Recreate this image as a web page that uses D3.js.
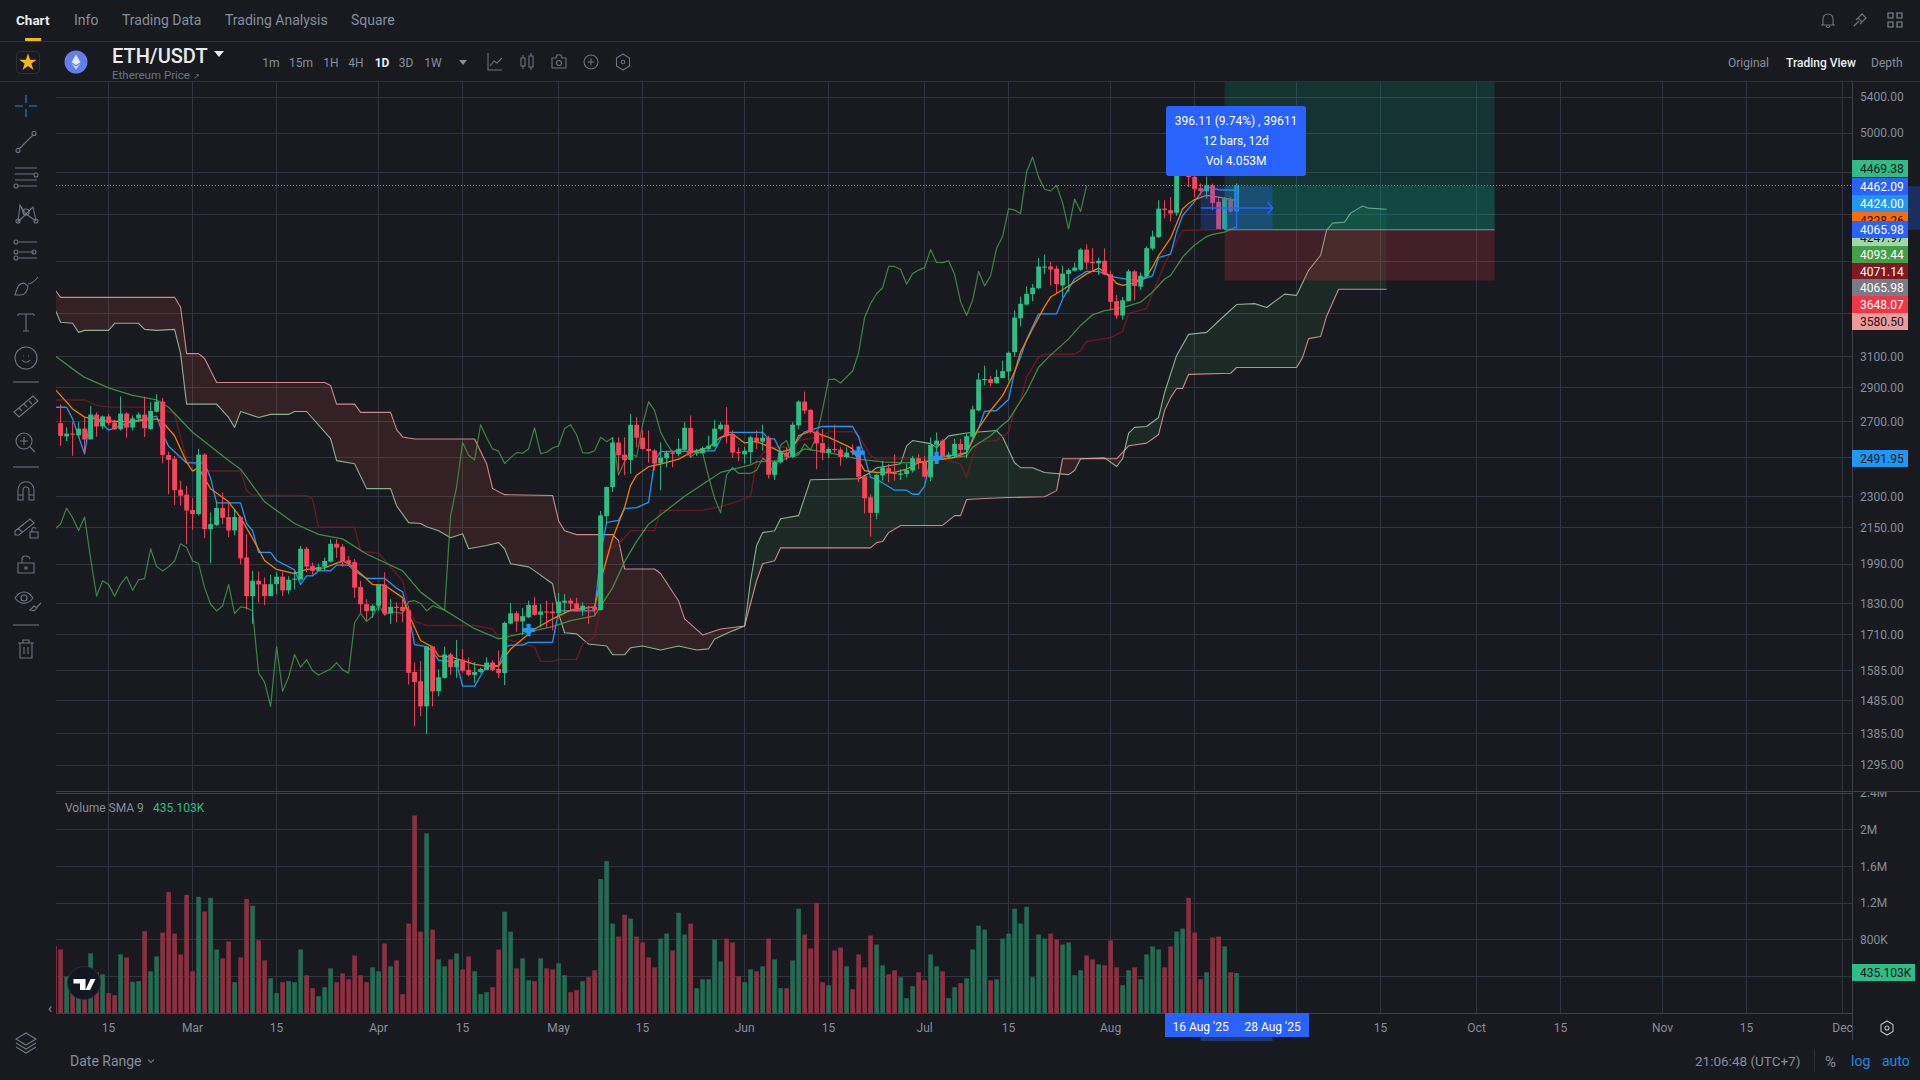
<!DOCTYPE html>
<html lang="en">
<head>
<meta charset="UTF-8">
<script src="https://d3js.org/d3.v7.min.js"></script>
<style>
  html, body { margin: 0; background: #181A20; }
  svg { display: block; }
  text { font-family: Roboto, sans-serif; }
</style>
<title>ETH/USDT</title>
</head>
<body>
<script>
// daily bars, first bar is 7 Feb 2025
const opens = [
  2689,2614,2630,2620,2658,2597,2739,2670,2728,2693, 2654,2745,2664,2716,2739,2656,2756,2816,2512,2492,
  2333,2308,2234,2214,2514,2144,2163,2243,2200,2138, 2200,2018,1858,1920,1906,1858,1906,1937,1881,1925,
  1925,2056,1982,1961,1978,2000,2078,2065,2006,1998, 1895,1826,1800,1820,1904,1790,1816,1816,1803,1580,
  1549,1468,1668,1516,1560,1640,1596,1622,1587,1570, 1580,1587,1612,1590,1576,1752,1791,1760,1776,1823,
  1785,1798,1798,1791,1832,1840,1829,1803,1816,1816, 1803,2204,2345,2580,2514,2486,2680,2607,2545,2536,
  2467,2495,2525,2518,2541,2662,2525,2522,2545,2558, 2655,2680,2626,2528,2516,2528,2607,2585,2607,2408,
  2473,2525,2502,2676,2816,2767,2641,2577,2525,2545, 2541,2502,2535,2532,2400,2295,2220,2405,2442,2418,
  2408,2412,2430,2495,2480,2395,2567,2591,2500,2507, 2572,2540,2611,2763,2948,2955,2930,2962,3003,3130,
  3365,3465,3543,3588,3753,3759,3742,3610,3700,3725, 3733,3897,3795,3785,3805,3696,3490,3385,3490,3720,
  3600,3680,3905,4003,4254,4240,4215,4600,4750,4553, 4443,4415,4471,4316,4073,4341,4228
];
const highs = [
  2798,2666,2695,2695,2724,2790,2752,2734,2743,2708, 2847,2752,2734,2752,2847,2813,2860,2838,2530,2507,
  2378,2352,2292,2545,2522,2222,2278,2318,2273,2238, 2206,2122,1961,1958,1934,1945,1955,1955,1939,1961,
  2069,2065,1996,1992,2017,2098,2098,2076,2024,2011, 1920,1846,1826,1906,1955,1846,1833,1852,1820,1612,
  1617,1670,1670,1589,1668,1646,1692,1659,1630,1614, 1595,1630,1620,1654,1760,1831,1800,1812,1840,1855,
  1826,1840,1833,1870,1866,1850,1852,1833,1820,1825, 2229,2349,2609,2609,2609,2743,2724,2647,2647,2545,
  2581,2536,2536,2601,2695,2734,2545,2558,2618,2708, 2695,2783,2647,2554,2556,2618,2647,2680,2618,2482,
  2536,2554,2695,2823,2877,2770,2647,2656,2554,2680, 2554,2554,2570,2562,2402,2310,2411,2482,2464,2515,
  2437,2464,2507,2516,2507,2609,2636,2600,2527,2600, 2600,2628,2792,2994,3041,2975,3015,3074,3134,3423,
  3525,3602,3620,3827,3855,3795,3765,3765,3745,3790, 3909,3941,3909,3830,3907,3725,3535,3521,3736,3730,
  3712,3925,4060,4331,4331,4360,4630,4780,4785,4650, 4488,4556,4488,4361,4361,4361,4490
];
const lows = [
  2563,2588,2508,2610,2524,2597,2613,2656,2676,2651, 2647,2606,2647,2695,2610,2651,2752,2468,2310,2258,
  2255,2076,2141,2208,2103,1993,2158,2167,2108,2116, 1989,1806,1751,1833,1823,1858,1866,1858,1866,1884,
  1920,1955,1945,1958,1961,1996,2017,1979,1985,1852, 1793,1766,1774,1800,1782,1751,1757,1757,1538,1407,
  1437,1384,1468,1500,1558,1570,1560,1577,1565,1543, 1575,1587,1582,1560,1536,1749,1722,1710,1773,1782,
  1738,1738,1727,1787,1787,1800,1798,1782,1751,1782, 1803,2167,2321,2430,2406,2413,2554,2540,2472,2430,
  2329,2447,2447,2505,2536,2497,2507,2516,2536,2554, 2647,2575,2497,2480,2467,2467,2545,2536,2389,2381,
  2467,2484,2495,2654,2743,2630,2437,2484,2495,2525, 2455,2495,2510,2370,2217,2110,2190,2378,2370,2378,
  2381,2395,2420,2437,2395,2375,2507,2490,2495,2500, 2500,2495,2607,2759,2916,2910,2925,2960,2946,3100,
  3308,3460,3490,3578,3700,3610,3550,3520,3560,3720, 3725,3733,3720,3690,3690,3425,3360,3355,3490,3496,
  3574,3675,3890,3995,4165,4140,4190,4560,4455,4361, 4376,4346,4242,4073,4067,4215,4210
];
const closes = [
  2617,2630,2626,2658,2597,2739,2670,2728,2689,2654, 2745,2664,2716,2739,2660,2760,2816,2512,2486,2330,
  2303,2231,2214,2514,2144,2167,2243,2197,2138,2200, 2014,1858,1920,1905,1858,1906,1937,1881,1924,1929,
  2056,1979,1961,1978,2003,2078,2061,2003,1992,1892, 1826,1800,1820,1904,1790,1816,1812,1800,1577,1546,
  1468,1668,1516,1562,1640,1596,1622,1584,1570,1580, 1590,1612,1587,1576,1755,1791,1760,1780,1823,1785,
  1798,1794,1791,1836,1840,1829,1800,1820,1812,1803, 2208,2346,2580,2511,2486,2680,2607,2545,2533,2467,
  2498,2525,2522,2545,2662,2520,2527,2550,2562,2658, 2680,2622,2525,2522,2535,2609,2585,2607,2408,2476,
  2525,2502,2680,2816,2762,2638,2575,2525,2545,2541, 2502,2525,2525,2398,2290,2220,2408,2446,2415,2415,
  2415,2432,2495,2475,2398,2567,2591,2502,2514,2572, 2540,2615,2770,2952,2955,2930,2968,3006,3126,3370,
  3471,3546,3592,3759,3759,3735,3620,3702,3730,3750, 3897,3791,3790,3805,3695,3485,3385,3497,3720,3605,
  3685,3909,4007,4254,4240,4210,4600,4750,4550,4434, 4418,4471,4306,4073,4341,4228,4469.38
];
// in thousands, starts one day earlier (6 Feb) because that bar peeks in at the left edge
const volumes = [
  730,693,397,250,200,150,650,444,422,217,195,639,606,339,347,892,455,617,877,1321,866,639,1289,
  455,1267,1108,1256,693,596,780,336,606,1245,1170,794,574,379,217,336,347,336,693,412,271,184,282,487,336,433,368,628,412,336,498,
  455,758,509,574,206,975,2155,888,1960,910,585,509,585,650,476,617,455,206,227,282,693,1105,888,487,596,357,347,596,487,476,
  542,412,227,249,347,390,466,1462,1657,975,834,1072,1029,834,769,606,498,812,866,682,1094,856,975,271,368,368,801,563,812,769,401,
  336,476,455,509,812,585,271,271,574,1137,856,704,1202,336,303,682,715,509,260,639,498,845,747,520,422,466,390,162,292,444,
  357,639,509,455,162,282,325,379,693,953,910,357,368,812,866,1137,975,1159,390,856,812,866,801,747,769,412,466,628,585,531,520,
  791,498,303,466,498,368,639,726,693,498,726,888,921,1256,877,368,444,823,834,726,444,435
];

// indicator lines, read at their corners: bar number from 7 Feb and price
const tenkanDays = [-1,1,2,4,5,6,8,12,16,17,18,19,21,24,25,26,30,31,32,33,35,36,39,40,41,42,43,45,46,48,49,51,54,56,57,58,59,61,62,63,66,67,69,71,73,74,75,77,78,82,83,89,90,91,93,94,96,98,99,100,109,110,111,117,118,119,120,121,123,124,127,132,133,135,136,139,141,142,143,144,145,151,152,153,154,156,158,159,160,161,163,166,167,169,171,173,175,178,180,182,183,185,186,187,189,190,191,193,196];
const tenkanVals = [2782,2782,2714,2518,2733,2716,2650,2700,2730,2630,2560,2530,2470,2470,2390,2268,2268,2170,2137,2040,2040,2005,1965,1905,1940,1940,1962,1962,1985,1985,1960,1930,1930,1890,1875,1790,1675,1668,1650,1620,1613,1533,1533,1601,1601,1665,1673,1673,1683,1683,1800,1800,2032,2175,2185,2240,2245,2270,2480,2530,2535,2600,2637,2637,2600,2600,2530,2510,2600,2640,2670,2670,2610,2395,2385,2330,2330,2310,2310,2350,2490,2525,2600,2660,2758,2763,2829,3000,3097,3215,3397,3397,3507,3660,3720,3720,3680,3655,3650,3685,3830,3859,4050,4190,4320,4398,4455,4429,4424];
const smaFastDays = [-1,1,2,4,8,12,16,17,19,21,22,23,25,28,30,32,34,36,39,41,44,47,48,50,52,54,57,58,60,62,63,65,69,71,73,75,79,82,85,89,90,92,94,95,96,98,100,103,105,108,110,112,114,116,119,120,122,123,125,126,128,131,132,133,134,136,139,141,143,145,149,151,153,155,157,159,160,162,164,165,167,169,171,173,175,176,177,179,181,182,183,185,187,188,189,191,193,196];
const smaFastVals = [2894,2813,2772,2724,2700,2698,2714,2695,2618,2474,2427,2445,2337,2273,2197,2102,2005,1967,1950,1967,1974,2003,1992,1950,1905,1902,1852,1787,1690,1666,1634,1632,1606,1600,1600,1659,1732,1770,1803,1816,1920,2102,2246,2354,2406,2450,2464,2490,2525,2554,2609,2628,2578,2585,2545,2528,2545,2618,2643,2632,2609,2563,2545,2482,2430,2420,2420,2437,2472,2482,2500,2525,2660,2763,2852,3000,3130,3290,3450,3521,3577,3636,3700,3746,3680,3625,3610,3630,3680,3755,3848,3993,4250,4300,4337,4376,4360,4328.26];
const smaSlowDays = [-1,2,4,8,12,16,18,22,28,30,34,39,43,47,51,57,60,64,69,73,82,85,89,92,94,96,98,104,110,115,116,120,122,124,128,133,137,141,144,147,151,152,155,157,158,161,163,165,168,170,172,174,177,180,182,184,185,187,189,191,192,194,196];
const smaSlowVals = [3108,3020,2965,2900,2853,2826,2782,2637,2483,2437,2273,2170,2120,2100,2033,1961,1874,1803,1733,1696,1741,1763,1781,1892,2000,2089,2167,2300,2420,2460,2476,2482,2507,2545,2525,2490,2476,2470,2476,2490,2507,2554,2618,2680,2707,2876,3030,3110,3220,3314,3390,3420,3442,3483,3560,3660,3687,3835,3935,4007,4025,4045,4093.44];
const kijunDays = [-1,4,6,8,16,19,20,21,24,25,30,31,32,41,42,43,49,50,53,57,58,59,61,69,72,73,79,80,82,83,86,87,89,90,91,93,95,99,100,107,110,112,115,116,118,121,122,123,127,128,132,133,135,136,147,150,151,152,153,156,158,159,160,161,163,164,169,170,171,175,177,178,181,182,184,187,196];
const kijunVals = [2826,2826,2793,2783,2783,2743,2609,2486,2435,2428,2428,2328,2306,2303,2287,2153,2153,2044,2036,1920,1816,1761,1745,1745,1732,1702,1666,1616,1616,1623,1623,1676,1702,1816,2046,2076,2137,2137,2231,2233,2250,2268,2298,2482,2554,2554,2507,2591,2615,2640,2640,2620,2507,2490,2490,2464,2395,2507,2583,2591,2640,2763,2823,2967,3097,3116,3116,3140,3202,3228,3271,3400,3435,3554,3780,4060,4071.14];
const spanADays = [-2,-1,0,2,3,4,8,9,13,14,16,19,20,21,26,28,29,30,33,35,38,39,41,45,46,49,51,55,56,58,60,61,63,65,67,68,71,73,74,75,78,79,82,83,84,86,87,88,91,92,94,95,97,100,103,106,108,109,112,114,115,116,117,119,120,123,125,133,135,136,140,141,142,145,146,148,151,156,157,159,160,162,164,168,169,170,174,176,177,178,179,181,183,184,186,188,191,194,196,199,201,204,206,208,210,211,212,214,215,217,218,221];
const spanAVals = [3500,3437,3336,3329,3265,3279,3279,3329,3329,3286,3279,3286,3120,2801,2801,2722,2665,2757,2722,2740,2740,2757,2757,2602,2482,2466,2338,2338,2254,2174,2170,2155,2137,2105,2123,2056,2070,2083,2056,1991,1978,1961,1908,1789,1718,1714,1695,1677,1670,1639,1639,1664,1670,1656,1670,1656,1660,1695,1725,1743,1920,2070,2128,2137,2192,2207,2383,2388,2420,2445,2466,2562,2591,2574,2552,2617,2633,2647,2611,2471,2445,2445,2420,2409,2430,2492,2497,2451,2492,2633,2665,2670,2722,2871,3108,3251,3265,3385,3465,3472,3443,3543,3534,3728,3850,4063,4124,4133,4213,4277,4258,4247.97];
const spanBDays = [-2,-1,0,19,20,21,23,24,26,44,45,46,49,50,55,56,57,59,69,71,72,74,82,83,84,86,92,93,94,99,100,103,104,107,110,114,116,117,119,120,135,136,137,138,140,147,149,150,151,154,158,164,166,167,176,178,181,183,184,185,186,187,188,195,196,206,207,208,210,211,213,221];
const spanBVals = [3622,3580,3519,3519,3445,3120,3120,3088,2933,2933,2914,2801,2801,2752,2752,2652,2611,2600,2600,2466,2338,2308,2304,2183,2137,2119,2119,2092,1969,1969,1950,1839,1770,1710,1732,1743,1920,1991,2004,2060,2060,2083,2088,2128,2161,2161,2207,2207,2284,2289,2294,2298,2328,2492,2492,2562,2577,2625,2763,2840,2896,2896,2985,2992,3029,3029,3095,3222,3236,3380,3580,3580.50];
// lagging span: the closes drawn this many bars back
const laggingShift = 25;

// small blue + marks on the chart
const markDays = [78, 133, 146];
const markVals = [1728, 2525, 2497];

const priceTicks = [5400,5000,4600,4200,3800,3400,3100,2900,2700,2500,2300,2150,1990,1830,1710,1585,1485,1385,1295];
// the labels that the value tags do not cover
const priceLabels = [5400,5000,3100,2900,2700,2300,2150,1990,1830,1710,1585,1485,1385,1295];
const volumeTicks = [400000,800000,1200000,1600000,2000000,2400000];
const volumeLabels = [800000,1200000,1600000,2000000,2400000];
const timeTickDates = ["2025-02-15","2025-03-01","2025-03-15","2025-04-01","2025-04-15","2025-05-01","2025-05-15","2025-06-01","2025-06-15","2025-07-01","2025-07-15","2025-08-01","2025-08-15","2025-09-01","2025-09-15","2025-10-01","2025-10-15","2025-11-01","2025-11-15","2025-12-01"];
const timeLabelDates = ["2025-02-15","2025-03-01","2025-03-15","2025-04-01","2025-04-15","2025-05-01","2025-05-15","2025-06-01","2025-06-15","2025-07-01","2025-07-15","2025-08-01","2025-09-15","2025-10-01","2025-10-15","2025-11-01","2025-11-15","2025-12-01"];
const timeLabels = ["15","Mar","15","Apr","15","May","15","Jun","15","Jul","15","Aug","15","Oct","15","Nov","15","Dec"];

// last value tags on the price axis, in drawing order
const tagLabels = ["4469.38","4462.09","4424.00","4328.26","4247.97","4065.98","4093.44","4071.14","4065.98","3648.07","3580.50","2491.95"];
const tagFills = ["#2ebd85","#2962ff","#2196f3","#ff6d00","#a5d6a7","#2962ff","#43a047","#801922","#787b86","#f23645","#ef9a9a","#2196f3"];
const tagInks = ["#10151a","#fff","#fff","#10151a","#10151a","#fff","#fff","#fff","#fff","#fff","#10151a","#10151a"];
const tagTops = [160,178,195,212,229,221,246,263,279,296,313,450];

const GREEN = "#2ebd85", RED = "#f6465d", GRID = "#2f3641", AXIS = "#848e9c", MUTED = "#6b7481";
const left = 56, right = 1852, headerY = 81, paneBottom = 791, volBottom = 1013;

const svg = d3.select("body").append("svg").attr("width", 1920).attr("height", 1080);
const defs = svg.append("defs");

const barDate = i => new Date(Date.UTC(2025, 1, 7 + i));
const x = d3.scaleUtc().domain([new Date("2025-02-15"), new Date("2025-12-01")]).range([108.6, 1842.6]);
const y = d3.scaleLog().domain([1295, 5400]).range([765, 97]);
const yVol = d3.scaleLinear().domain([0, 2400000]).range([volBottom, 793]);
const bx = i => x(barDate(i));

defs.append("clipPath").attr("id", "pricePane").append("rect")
  .attr("x", left).attr("y", headerY).attr("width", right - left).attr("height", paneBottom - headerY);
defs.append("clipPath").attr("id", "volPane").append("rect")
  .attr("x", left).attr("y", 793).attr("width", right - left).attr("height", volBottom - 793);
defs.append("clipPath").attr("id", "volAxisClip").append("rect")
  .attr("x", right).attr("y", 792).attr("width", 68).attr("height", volBottom - 792);
defs.append("clipPath").attr("id", "timeAxisClip").append("rect")
  .attr("x", left).attr("y", volBottom).attr("width", right - left).attr("height", 30);

// grid
const grid = svg.append("g").attr("stroke", GRID).attr("stroke-width", 1).attr("shape-rendering", "crispEdges");
grid.selectAll(".v").data(timeTickDates).enter().append("line")
  .attr("x1", d => x(new Date(d))).attr("x2", d => x(new Date(d))).attr("y1", headerY).attr("y2", volBottom);
grid.selectAll(".h").data(priceTicks).enter().append("line")
  .attr("x1", left).attr("x2", right).attr("y1", d => y(d)).attr("y2", d => y(d));
grid.selectAll(".hv").data(volumeTicks).enter().append("line")
  .attr("x1", left).attr("x2", right).attr("y1", d => yVol(d)).attr("y2", d => yVol(d));

// volume
svg.append("g").attr("clip-path", "url(#volPane)").selectAll("rect").data(volumes).enter().append("rect")
  .attr("x", (d, i) => bx(i - 1) - 2.3)
  .attr("width", 4.6)
  .attr("y", d => yVol(d * 1000))
  .attr("height", d => volBottom - yVol(d * 1000))
  .attr("fill", (d, i) => (i === 0 || closes[i - 1] < opens[i - 1]) ? "#8c2f40" : "#236b53");

const pane = svg.append("g").attr("clip-path", "url(#pricePane)");

// ichimoku cloud, filled between the two spans and split by colour with clip paths
const line = d3.line();
const ptsA = spanADays.map((d, i) => [bx(d), y(spanAVals[i])]);
const ptsB = spanBDays.map((d, i) => [bx(d), y(spanBVals[i])]);
const cloudPath = line(ptsA.concat(ptsB.slice().reverse())) + "Z";
const xa = ptsB[0][0], xb = ptsB[ptsB.length - 1][0];
defs.append("clipPath").attr("id", "aboveB").append("path")
  .attr("d", line([[xa, -50]].concat(ptsB, [[xb, -50]])) + "Z");
defs.append("clipPath").attr("id", "belowB").append("path")
  .attr("d", line([[xa, 1200]].concat(ptsB, [[xb, 1200]])) + "Z");
pane.append("g").attr("clip-path", "url(#aboveB)").append("path")
  .attr("d", cloudPath).attr("fill", "#43a047").attr("fill-opacity", 0.12);
pane.append("g").attr("clip-path", "url(#belowB)").append("path")
  .attr("d", cloudPath).attr("fill", "#ef5350").attr("fill-opacity", 0.13);

function drawLine(days, vals, color, width, opacity) {
  pane.append("path")
    .attr("d", line(days.map((d, i) => [bx(d), y(vals[i])])))
    .attr("fill", "none").attr("stroke", color).attr("stroke-width", width)
    .attr("stroke-opacity", opacity).attr("stroke-linejoin", "round");
}

drawLine(spanADays, spanAVals, "#a5d6a7", 1.1, 0.8);
drawLine(spanBDays, spanBVals, "#ef9a9a", 1.1, 0.85);
drawLine(kijunDays, kijunVals, "#801922", 1.4, 0.75);
drawLine(closes.map((c, i) => i - laggingShift), closes, "#43a047", 1.2, 0.8);
drawLine(smaSlowDays, smaSlowVals, "#43a047", 1.3, 0.85);
drawLine(tenkanDays, tenkanVals, "#2196f3", 1.3, 1);
drawLine(smaFastDays, smaFastVals, "#f57c00", 1.3, 1);

// candles
const candles = pane.append("g").selectAll("g").data(closes).enter().append("g")
  .attr("fill", (d, i) => d < opens[i] ? RED : GREEN);
candles.append("rect")
  .attr("x", (d, i) => bx(i) - 0.5).attr("width", 1)
  .attr("y", (d, i) => y(highs[i]))
  .attr("height", (d, i) => y(lows[i]) - y(highs[i]));
candles.append("rect")
  .attr("x", (d, i) => bx(i) - 2.4).attr("width", 4.8)
  .attr("y", (d, i) => y(Math.max(opens[i], d)))
  .attr("height", (d, i) => Math.max(1.2, Math.abs(y(opens[i]) - y(d))));

pane.selectAll(".mark").data(markDays).enter().append("path")
  .attr("transform", (d, i) => `translate(${bx(d)},${y(markVals[i])})`)
  .attr("d", d3.symbol().type(d3.symbolCross).size(85))
  .attr("fill", "#2196f3");

// last price
pane.append("line").attr("x1", left).attr("x2", right).attr("y1", y(4469.38)).attr("y2", y(4469.38))
  .attr("stroke", GREEN).attr("stroke-dasharray", "1 2").attr("shape-rendering", "crispEdges");

// long position tool
const posLeft = bx(194), posRight = bx(239);
pane.append("rect").attr("x", posLeft).attr("width", posRight - posLeft)
  .attr("y", headerY).attr("height", y(4065.98) - headerY)
  .attr("fill", "#089981").attr("fill-opacity", 0.2);
pane.append("rect").attr("x", posLeft).attr("width", posRight - posLeft)
  .attr("y", y(4469.38)).attr("height", y(4065.98) - y(4469.38))
  .attr("fill", "#089981").attr("fill-opacity", 0.2);
pane.append("rect").attr("x", posLeft).attr("width", posRight - posLeft)
  .attr("y", y(4065.98)).attr("height", y(3648.07) - y(4065.98))
  .attr("fill", "#f23645").attr("fill-opacity", 0.2);
pane.append("line").attr("x1", posLeft).attr("x2", posRight).attr("y1", y(4065.98)).attr("y2", y(4065.98))
  .attr("stroke", "#8a8f98").attr("stroke-width", 1);

// measure tool
const mLeft = bx(190), mRight = bx(202), mMid = bx(196), mTop = y(4462.09), mBot = y(4065.98);
const mRow = (mTop + mBot) / 2;
pane.append("rect").attr("x", mLeft).attr("width", mRight - mLeft).attr("y", mTop).attr("height", mBot - mTop)
  .attr("fill", "#2962ff").attr("fill-opacity", 0.25);
pane.append("line").attr("x1", mLeft).attr("x2", mRight).attr("y1", mRow).attr("y2", mRow)
  .attr("stroke", "#2962ff").attr("stroke-width", 1.4);
pane.append("line").attr("x1", mMid).attr("x2", mMid).attr("y1", mTop).attr("y2", mBot)
  .attr("stroke", "#2962ff").attr("stroke-width", 1.4);
pane.append("path").attr("d", `M${mRight - 5},${mRow - 6}L${mRight},${mRow}L${mRight - 5},${mRow + 6}`)
  .attr("fill", "none").attr("stroke", "#2962ff").attr("stroke-width", 1.4);

svg.append("rect").attr("x", 1166).attr("y", 106).attr("width", 140).attr("height", 70).attr("rx", 3).attr("fill", "#2962ff");
[["396.11 (9.74%) , 39611", 125], ["12 bars, 12d", 145], ["Vol 4.053M", 165]].forEach(r => {
  svg.append("text").attr("x", 1236).attr("y", r[1]).attr("text-anchor", "middle")
    .attr("font-size", 12).attr("fill", "#fff").text(r[0]);
});

// frame lines
const frame = svg.append("g").attr("stroke", "#2b3139").attr("shape-rendering", "crispEdges");
frame.append("line").attr("x1", 0).attr("x2", 1920).attr("y1", 41).attr("y2", 41);
frame.append("line").attr("x1", 0).attr("x2", 1920).attr("y1", headerY).attr("y2", headerY);
frame.append("line").attr("x1", left).attr("x2", 1920).attr("y1", 791).attr("y2", 791).attr("stroke", "#3a424e");
frame.append("line").attr("x1", left).attr("x2", right).attr("y1", 793).attr("y2", 793).attr("stroke", "#3a424e");
frame.append("line").attr("x1", left).attr("x2", right).attr("y1", volBottom).attr("y2", volBottom).attr("stroke", "#3a424e");
frame.append("line").attr("x1", right).attr("x2", right).attr("y1", headerY).attr("y2", 1040).attr("stroke", "#3a424e");

// axes
function styleAxis(g) {
  g.select(".domain").remove();
  g.selectAll("text").attr("fill", AXIS).attr("font-size", 12).attr("font-family", "Roboto, sans-serif");
}
svg.append("rect").attr("x", right + 1).attr("y", mTop).attr("width", 68).attr("height", mBot - mTop).attr("fill", "#1b2f5e");
svg.append("g").attr("transform", `translate(${right},0)`)
  .call(d3.axisRight(y).tickValues(priceLabels).tickSize(0).tickPadding(8).tickFormat(d3.format(".2f")))
  .call(styleAxis);
svg.append("g").attr("clip-path", "url(#volAxisClip)").append("g").attr("transform", `translate(${right},0)`)
  .call(d3.axisRight(yVol).tickValues(volumeLabels).tickSize(0).tickPadding(8)
    .tickFormat(v => v >= 1e6 ? (v / 1e6) + "M" : (v / 1e3) + "K"))
  .call(styleAxis);
svg.append("g").attr("clip-path", "url(#timeAxisClip)").append("g").attr("transform", `translate(0,${volBottom})`)
  .call(d3.axisBottom(x).offset(0).tickValues(timeLabelDates.map(d => new Date(d))).tickSize(0).tickPadding(10)
    .tickFormat((d, i) => timeLabels[i]))
  .call(styleAxis);

// date range tag below the time axis
svg.append("rect").attr("x", mLeft).attr("y", 1037).attr("width", mRight - mLeft).attr("height", 4).attr("fill", "#1e3a70");
svg.append("rect").attr("x", 1165).attr("y", volBottom).attr("width", 144).attr("height", 24).attr("fill", "#2962ff");
svg.append("text").attr("x", mLeft).attr("y", 1031).attr("text-anchor", "middle").attr("font-size", 12).attr("fill", "#fff").text("16 Aug '25");
svg.append("text").attr("x", mRight).attr("y", 1031).attr("text-anchor", "middle").attr("font-size", 12).attr("fill", "#fff").text("28 Aug '25");

// value tags
tagLabels.forEach((t, i) => {
  svg.append("rect").attr("x", right).attr("y", tagTops[i]).attr("width", 56).attr("height", 17).attr("fill", tagFills[i]);
  svg.append("text").attr("x", right + 8).attr("y", tagTops[i] + 13).attr("font-size", 12).attr("fill", tagInks[i]).text(t);
});
svg.append("rect").attr("x", right).attr("y", 964).attr("width", 63).attr("height", 17).attr("fill", GREEN);
svg.append("text").attr("x", right + 8).attr("y", 977).attr("font-size", 12).attr("fill", "#10151a").text("435.103K");

// volume legend
svg.append("text").attr("x", 65).attr("y", 812).attr("font-size", 12).attr("fill", AXIS).text("Volume SMA 9");
svg.append("text").attr("x", 153).attr("y", 812).attr("font-size", 12).attr("fill", GREEN).text("435.103K");

// TradingView badge
svg.append("circle").attr("cx", 84).attr("cy", 983).attr("r", 16.5).attr("fill", "#131722").attr("stroke", "#2a2e39");
svg.append("path").attr("d", "M73.5,979H85.5V990H80V983.5H73.5ZM90.5,979H95.5L90,990H85.5Z").attr("fill", "#fff");
svg.append("text").attr("x", 48).attr("y", 1013).attr("font-size", 14).attr("fill", AXIS).text("‹");

// top navigation
const navLabels = ["Chart", "Info", "Trading Data", "Trading Analysis", "Square"];
const navLeft = [16, 74, 122, 225, 351];
navLabels.forEach((t, i) => {
  svg.append("text").attr("x", navLeft[i]).attr("y", 25).attr("font-size", i === 0 ? 13.5 : 14)
    .attr("font-weight", i === 0 ? 700 : 400).attr("fill", i === 0 ? "#eaecef" : AXIS).text(t);
});
svg.append("rect").attr("x", 25).attr("y", 38).attr("width", 16).attr("height", 3).attr("fill", "#f0b90b");

// symbol row
svg.append("rect").attr("x", 16.5).attr("y", 51.5).attr("width", 23).attr("height", 22).attr("rx", 4).attr("fill", "none").attr("stroke", "#2b3139");
svg.append("path").attr("transform", "translate(28,62.5)").attr("d", d3.symbol().type(d3.symbolStar).size(95)).attr("fill", "#f0b90b");
svg.append("circle").attr("cx", 76).attr("cy", 62).attr("r", 11.5).attr("fill", "#627eea");
svg.append("path").attr("d", "M76,54.5L80.5,62.2L76,65L71.5,62.2Z").attr("fill", "#e6ebfb");
svg.append("path").attr("d", "M76,66.2L80.5,63.5L76,69.8L71.5,63.5Z").attr("fill", "#c5d0f5");
svg.append("text").attr("x", 112).attr("y", 63).attr("font-size", 20).attr("font-weight", 500).attr("fill", "#eaecef").text("ETH/USDT");
svg.append("path").attr("d", "M214,51h10l-5,6z").attr("fill", "#eaecef");
const subTitle = svg.append("text").attr("x", 112).attr("y", 79).attr("font-size", 11.5).attr("fill", MUTED);
subTitle.append("tspan").text("Ethereum Price ");
subTitle.append("tspan").attr("font-size", 8).text("↗");

const frameLabels = ["1m", "15m", "1H", "4H", "1D", "3D", "1W"];
const frameMid = [271, 301, 331, 356, 382, 406, 433];
frameLabels.forEach((t, i) => {
  svg.append("text").attr("x", frameMid[i]).attr("y", 67).attr("text-anchor", "middle").attr("font-size", 12)
    .attr("font-weight", t === "1D" ? 700 : 400).attr("fill", t === "1D" ? "#eaecef" : AXIS).text(t);
});
svg.append("path").attr("d", "M459,60h8l-4,5z").attr("fill", AXIS);

[["Original", 1728, AXIS, 400], ["Trading View", 1786, "#eaecef", 500], ["Depth", 1871, AXIS, 400]].forEach(r => {
  svg.append("text").attr("x", r[1]).attr("y", 67).attr("font-size", 12).attr("font-weight", r[3]).attr("fill", r[2]).text(r[0]);
});

// outline icons, each path is drawn around 0,0
function icon(cx, cy, d, color) {
  svg.append("path").attr("transform", `translate(${cx},${cy})`).attr("d", d)
    .attr("fill", "none").attr("stroke", color || MUTED).attr("stroke-width", 1.1);
}
function circle(cx, cy, r, color) {
  svg.append("circle").attr("cx", cx).attr("cy", cy).attr("r", r)
    .attr("fill", "none").attr("stroke", color || MUTED).attr("stroke-width", 1.1);
}

// chart row icons
icon(495, 62, "M-7,-9V8H7M-5,4L-1,-1L2,1L7,-4");
icon(527, 62, "M-6,-4h4v8h-4zM-4,-7v3M-4,4v3M2,-6h4v11h-4zM4,-9v3M4,5v3");
icon(559, 62, "M-7,-4h4l1,-3h4l1,3h4v10h-14z");
circle(559, 63, 2.5);
circle(591, 62, 7);
icon(591, 62, "M-3.5,0h7M0,-3.5v7");
icon(623, 62, "M0,-8L6.5,-4V4L0,8L-6.5,4V-4Z");
circle(623, 62, 1.8);

// top right icons
icon(1828, 20, "M-5,4V-1C-5,-4 -3,-6 0,-6C3,-6 5,-4 5,-1V4L6,5H-6ZM-2,6C-1,8 1,8 2,6");
icon(1860, 20, "M-6,6L-1,1M2,-6L6,-2L2,2L-2,-2ZM-2,-2L-4,0M2,2L0,4");
icon(1895, 20, "M-7,-7h5v5h-5zM2,-7h5v5h-5zM-7,2h5v5h-5zM2,2h5v5h-5z", "#848e9c");

// bottom bar
svg.append("text").attr("x", 70).attr("y", 1066).attr("font-size", 14).attr("fill", AXIS).text("Date Range");
icon(151, 1061, "M-3,-1.5L0,1.5L3,-1.5");
svg.append("text").attr("x", 1695).attr("y", 1066).attr("font-size", 13.5).attr("fill", AXIS).text("21:06:48 (UTC+7)");
svg.append("line").attr("x1", 1814.5).attr("x2", 1814.5).attr("y1", 1050).attr("y2", 1072).attr("stroke", "#2b3139");
svg.append("text").attr("x", 1825).attr("y", 1067).attr("font-size", 15).attr("fill", AXIS).text("%");
svg.append("text").attr("x", 1851).attr("y", 1066).attr("font-size", 14).attr("fill", "#1e88e5").text("log");
svg.append("text").attr("x", 1882).attr("y", 1066).attr("font-size", 14).attr("fill", "#1e88e5").text("auto");
icon(1887, 1028, "M0,-7L6,-3.5V3.5L0,7L-6,3.5V-3.5Z", "#b7bdc6");
circle(1887, 1028, 2, "#b7bdc6");

// left toolbar
const toolbarX = 26;
icon(toolbarX, 106, "M-11,0h8M3,0h8M0,-11v8M0,3v8", "#1e88e5");
icon(toolbarX, 142, "M-7,7L7,-7");
circle(toolbarX - 8, 150.5, 2); circle(toolbarX + 8, 133.5, 2);
icon(toolbarX, 177, "M-11,-9H11M-11,-3H8M-11,3H11M-8,9H11");
circle(toolbarX + 10, 175, 2); circle(toolbarX - 10, 186, 2);
icon(toolbarX, 213, "M-8,9L-6,-8L0,1L7,-6L10,8M-8,9L0,1L10,8M-6,-8L-1,3");
circle(toolbarX, 212, 3); circle(toolbarX - 8, 221, 2); circle(toolbarX + 10, 221, 2);
icon(toolbarX, 250, "M-7,-8H11M-7,8H11M-7,2H8");
circle(toolbarX - 10, 242, 2); circle(toolbarX - 10, 252, 2); circle(toolbarX - 10, 258, 2); circle(toolbarX + 8, 252, 2);
icon(toolbarX, 287, "M-11,8C-9,2 -8,-4 -2,-4L2,-1C2,3 -1,8 -5,8ZM2,-3C5,-3 8,-5 12,-10");
icon(toolbarX, 322, "M-8,-8H8M0,-8V9M-3,9H3M-8,-8V-6M8,-8V-6");
circle(toolbarX, 358, 11);
icon(toolbarX, 358, "M-4,2C-2,5 2,5 4,2M-3,-2h1M2,-2h1");
icon(toolbarX, 382, "M-13,0H13");
icon(toolbarX, 406, "M-12,6L7,-10L12,-5L-7,11ZM-7,2L-4,5M-2,-2L1,1M3,-5L6,-2");
circle(toolbarX - 2, 441, 8);
icon(toolbarX - 2, 441, "M-4,0H4M0,-4V4M6,6L11,11");
icon(toolbarX, 467, "M-13,0H13");
icon(toolbarX, 491, "M-8,9V-1C-8,-12 8,-12 8,-1V9H3V-1C3,-5 -3,-5 -3,-1V9ZM-8,4H-3M3,4H8");
icon(toolbarX, 527, "M-11,4L4,-8L8,-4L-7,8L-11,8ZM-8,1L-4,5M4,5h8v6h-8zM6,5V2C6,0 10,0 10,2");
icon(toolbarX, 565, "M-8,-2H8V8H-8ZM-4,-2V-6C-4,-10 3,-10 4,-6M-1,2h2v2h-2z");
icon(toolbarX - 2, 598, "M-9,0C-4,-8 4,-8 9,0C4,7 -4,7 -9,0Z");
circle(toolbarX - 2, 598, 3);
icon(toolbarX + 8, 607, "M-4,3L0,-1L3,1L0,4ZM3,0L7,-4");
icon(toolbarX, 625, "M-13,0H13");
icon(toolbarX, 649, "M-8,-6H8M-6,-6V9H6V-6M-3,-6V-9H3V-6M-2,-2V5M2,-2V5");
icon(toolbarX, 1042, "M0,-9L10,-3L0,3L-10,-3ZM-10,1L0,7L10,1M-10,5L0,11L10,5");
</script>
</body>
</html>
